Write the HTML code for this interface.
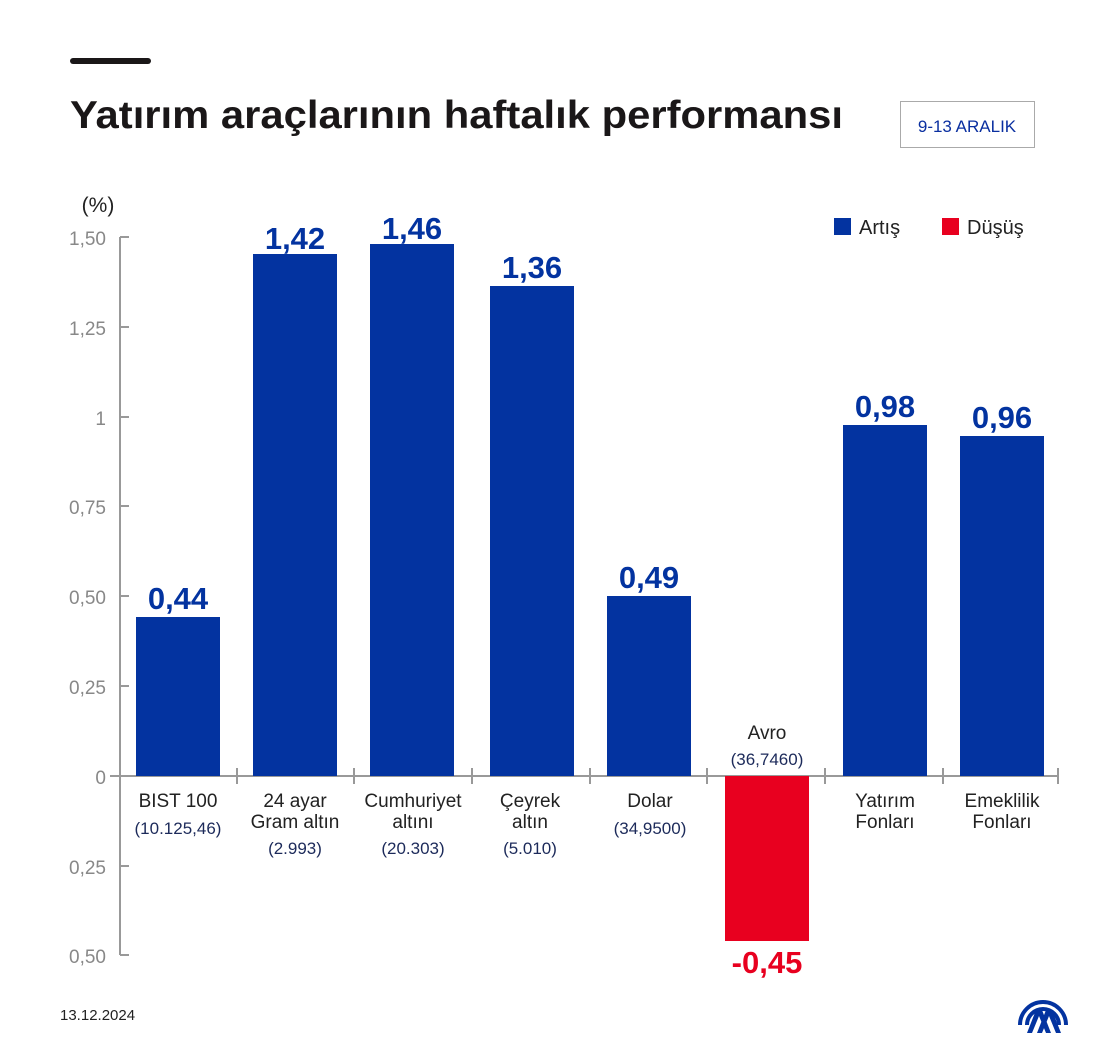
<!DOCTYPE html>
<html><head><meta charset="utf-8"><style>
html,body{margin:0;padding:0;background:#fff;}
svg{display:block;font-family:"Liberation Sans",sans-serif;}
</style></head><body>
<svg width="1120" height="1064" viewBox="0 0 1120 1064" xmlns="http://www.w3.org/2000/svg">
<rect width="1120" height="1064" fill="#fff"/>
<rect x="70" y="58" width="81" height="6" rx="3" fill="#1a1718"/>
<text x="70" y="128" font-size="39" font-weight="bold" fill="#1a1718" textLength="773" lengthAdjust="spacingAndGlyphs">Yatırım araçlarının haftalık performansı</text>
<rect x="900.5" y="101.5" width="134" height="46" fill="#fff" stroke="#aaa" stroke-width="1"/>
<text x="967" y="132" font-size="17" fill="#0a2fa0" text-anchor="middle">9-13 ARALIK</text>
<text x="98" y="212" font-size="21" fill="#222" text-anchor="middle">(%)</text>
<rect x="834" y="218" width="17" height="17" fill="#0333a0"/>
<text x="859" y="234" font-size="20" fill="#222">Artış</text>
<rect x="942" y="218" width="17" height="17" fill="#e8001f"/>
<text x="967" y="234" font-size="20" fill="#222">Düşüş</text>
<g stroke="#999" stroke-width="2" fill="none">
<line x1="120" y1="237" x2="120" y2="955"/>
<line x1="120" y1="237" x2="129" y2="237"/>
<line x1="120" y1="327" x2="129" y2="327"/>
<line x1="120" y1="417" x2="129" y2="417"/>
<line x1="120" y1="506" x2="129" y2="506"/>
<line x1="120" y1="596" x2="129" y2="596"/>
<line x1="120" y1="686" x2="129" y2="686"/>
<line x1="120" y1="866" x2="129" y2="866"/>
<line x1="120" y1="955" x2="129" y2="955"/>
<line x1="110" y1="776" x2="1058" y2="776"/>
<line x1="237" y1="768" x2="237" y2="784"/>
<line x1="354" y1="768" x2="354" y2="784"/>
<line x1="472" y1="768" x2="472" y2="784"/>
<line x1="590" y1="768" x2="590" y2="784"/>
<line x1="707" y1="768" x2="707" y2="784"/>
<line x1="825" y1="768" x2="825" y2="784"/>
<line x1="943" y1="768" x2="943" y2="784"/>
<line x1="1058" y1="768" x2="1058" y2="784"/>
</g>
<g font-size="19" fill="#888" text-anchor="end">
<text x="106" y="245">1,50</text>
<text x="106" y="335">1,25</text>
<text x="106" y="425">1</text>
<text x="106" y="514">0,75</text>
<text x="106" y="604">0,50</text>
<text x="106" y="694">0,25</text>
<text x="106" y="784">0</text>
<text x="106" y="874">0,25</text>
<text x="106" y="963">0,50</text>
</g>
<g fill="#0333a0">
<rect x="136" y="617" width="84" height="159"/>
<rect x="253" y="254" width="84" height="522"/>
<rect x="370" y="244" width="84" height="532"/>
<rect x="490" y="286" width="84" height="490"/>
<rect x="607" y="596" width="84" height="180"/>
<rect x="843" y="425" width="84" height="351"/>
<rect x="960" y="436" width="84" height="340"/>
</g>
<rect x="725" y="776" width="84" height="165" fill="#e8001f"/>
<g font-size="31" font-weight="bold" fill="#0333a0" text-anchor="middle">
<text x="178" y="609">0,44</text>
<text x="295" y="249">1,42</text>
<text x="412" y="239">1,46</text>
<text x="532" y="278">1,36</text>
<text x="649" y="588">0,49</text>
<text x="885" y="417">0,98</text>
<text x="1002" y="428">0,96</text>
<text x="767" y="973" fill="#e8001f">-0,45</text>
</g>
<g font-size="19" fill="#222" text-anchor="middle">
<text x="178" y="807">BIST 100</text>
<text x="295" y="807">24 ayar</text>
<text x="295" y="828">Gram altın</text>
<text x="413" y="807">Cumhuriyet</text>
<text x="413" y="828">altını</text>
<text x="530" y="807">Çeyrek</text>
<text x="530" y="828">altın</text>
<text x="650" y="807">Dolar</text>
<text x="767" y="739">Avro</text>
<text x="885" y="807">Yatırım</text>
<text x="885" y="828">Fonları</text>
<text x="1002" y="807">Emeklilik</text>
<text x="1002" y="828">Fonları</text>
</g>
<g font-size="17" fill="#1c2a5a" text-anchor="middle">
<text x="178" y="834">(10.125,46)</text>
<text x="295" y="854">(2.993)</text>
<text x="413" y="854">(20.303)</text>
<text x="530" y="854">(5.010)</text>
<text x="650" y="834">(34,9500)</text>
<text x="767" y="765">(36,7460)</text>
</g>
<text x="60" y="1020" font-size="15" fill="#222">13.12.2024</text>
<g fill="none" stroke="#0333a0" stroke-width="4">
<path d="M1027 1025 A16 16 0 0 1 1059 1025"/>
<path d="M1020 1025 A23 23 0 0 1 1066 1025"/>
</g>
<g fill="#0333a0">
<path d="M1027 1033 L1036 1010 L1042 1010 L1051 1033 L1046 1033 L1039 1016 L1032 1033 Z"/>
<path d="M1037 1033 L1046 1010 L1052 1010 L1061 1033 L1056 1033 L1049 1016 L1042 1033 Z"/>
</g>
</svg>
</body></html>
